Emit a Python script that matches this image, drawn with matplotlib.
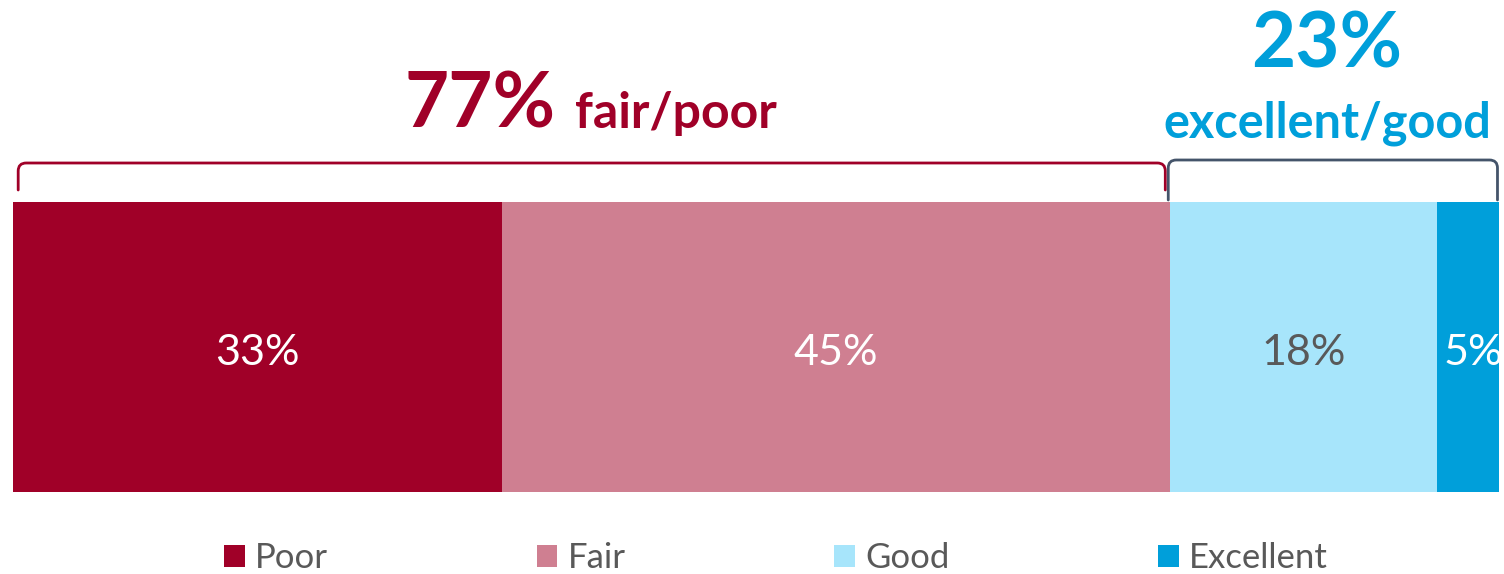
import matplotlib.pyplot as plt
from matplotlib.path import Path
from matplotlib.patches import PathPatch, Patch

categories = ["Poor", "Fair", "Good", "Excellent"]
values = [33, 45, 18, 5]
colors = ["#A00028", "#CF7F91", "#A7E5FB", "#009FDA"]
label_colors = ["white", "white", "#595959", "white"]

group_totals = [77, 23]
group_names = ["fair/poor", "excellent/good"]

plt.rcParams["font.family"] = ["Lato", "DejaVu Sans"]

W, H = 1504, 574
fig = plt.figure(figsize=(W / 100, H / 100), dpi=100)
x_left, x_right = 13, 1499
px_per_unit = 14.83
ax = fig.add_axes([x_left / W, 0, (x_right - x_left) / W, 1])
ax.set_xlim(0, (x_right - x_left) / px_per_unit)
ax.set_ylim(H, 0)
ax.axis("off")

# stacked bar, y measured in pixels from the top; the last segment runs past the axes edge
bar_top, bar_bottom = 202, 492
left = 0
for cat, v, c, lc in zip(categories, values, colors, label_colors):
    ax.barh((bar_top + bar_bottom) / 2, v, left=left, height=bar_bottom - bar_top,
            color=c, edgecolor="none")
    ax.text(left + v / 2, 353, f"{v}%", ha="center", va="center",
            color=lc, fontsize=31, clip_on=True)
    left += v


def bracket(x0, x1, y_top, y_bot, color, r=8):
    rx = r / px_per_unit
    verts = [(x0, y_bot), (x0, y_top + r), (x0, y_top), (x0 + rx, y_top),
             (x1 - rx, y_top), (x1, y_top), (x1, y_top + r), (x1, y_bot)]
    codes = [Path.MOVETO, Path.LINETO, Path.CURVE3, Path.CURVE3,
             Path.LINETO, Path.CURVE3, Path.CURVE3, Path.LINETO]
    ax.add_patch(PathPatch(Path(verts, codes), fill=False, edgecolor=color, lw=2,
                           capstyle="round", joinstyle="round", clip_on=False))


red, blue = "#A00028", "#009FDA"
split = values[0] + values[1]
bracket(0.35, split - 0.3, 163, 190, red)
bracket(split - 0.1, split + 22.1, 160, 200, "#44546A")

# group headline labels
ax.text(36.6, 128, f"{group_totals[0]}%", ha="right", va="baseline", color=red,
        fontsize=55, fontweight="bold")
ax.text(37.9, 128, group_names[0], ha="left", va="baseline", color=red,
        fontsize=36, fontweight="bold")
ax.text(88.6, 67, f"{group_totals[1]}%", ha="center", va="baseline", color=blue,
        fontsize=55, fontweight="bold")
ax.text(88.6, 138, group_names[1], ha="center", va="baseline", color=blue,
        fontsize=35, fontweight="bold")

handles = [Patch(facecolor=c, edgecolor="none", label=cat) for cat, c in zip(categories, colors)]
leg = fig.legend(handles=handles, loc="center", bbox_to_anchor=(0.516, 1 - 558 / H),
                 ncol=4, frameon=False, fontsize=25, handlelength=0.6, handleheight=0.6,
                 handletextpad=0.3, columnspacing=6.0, labelcolor="#595959")

fig.savefig("out.png", dpi=100)
